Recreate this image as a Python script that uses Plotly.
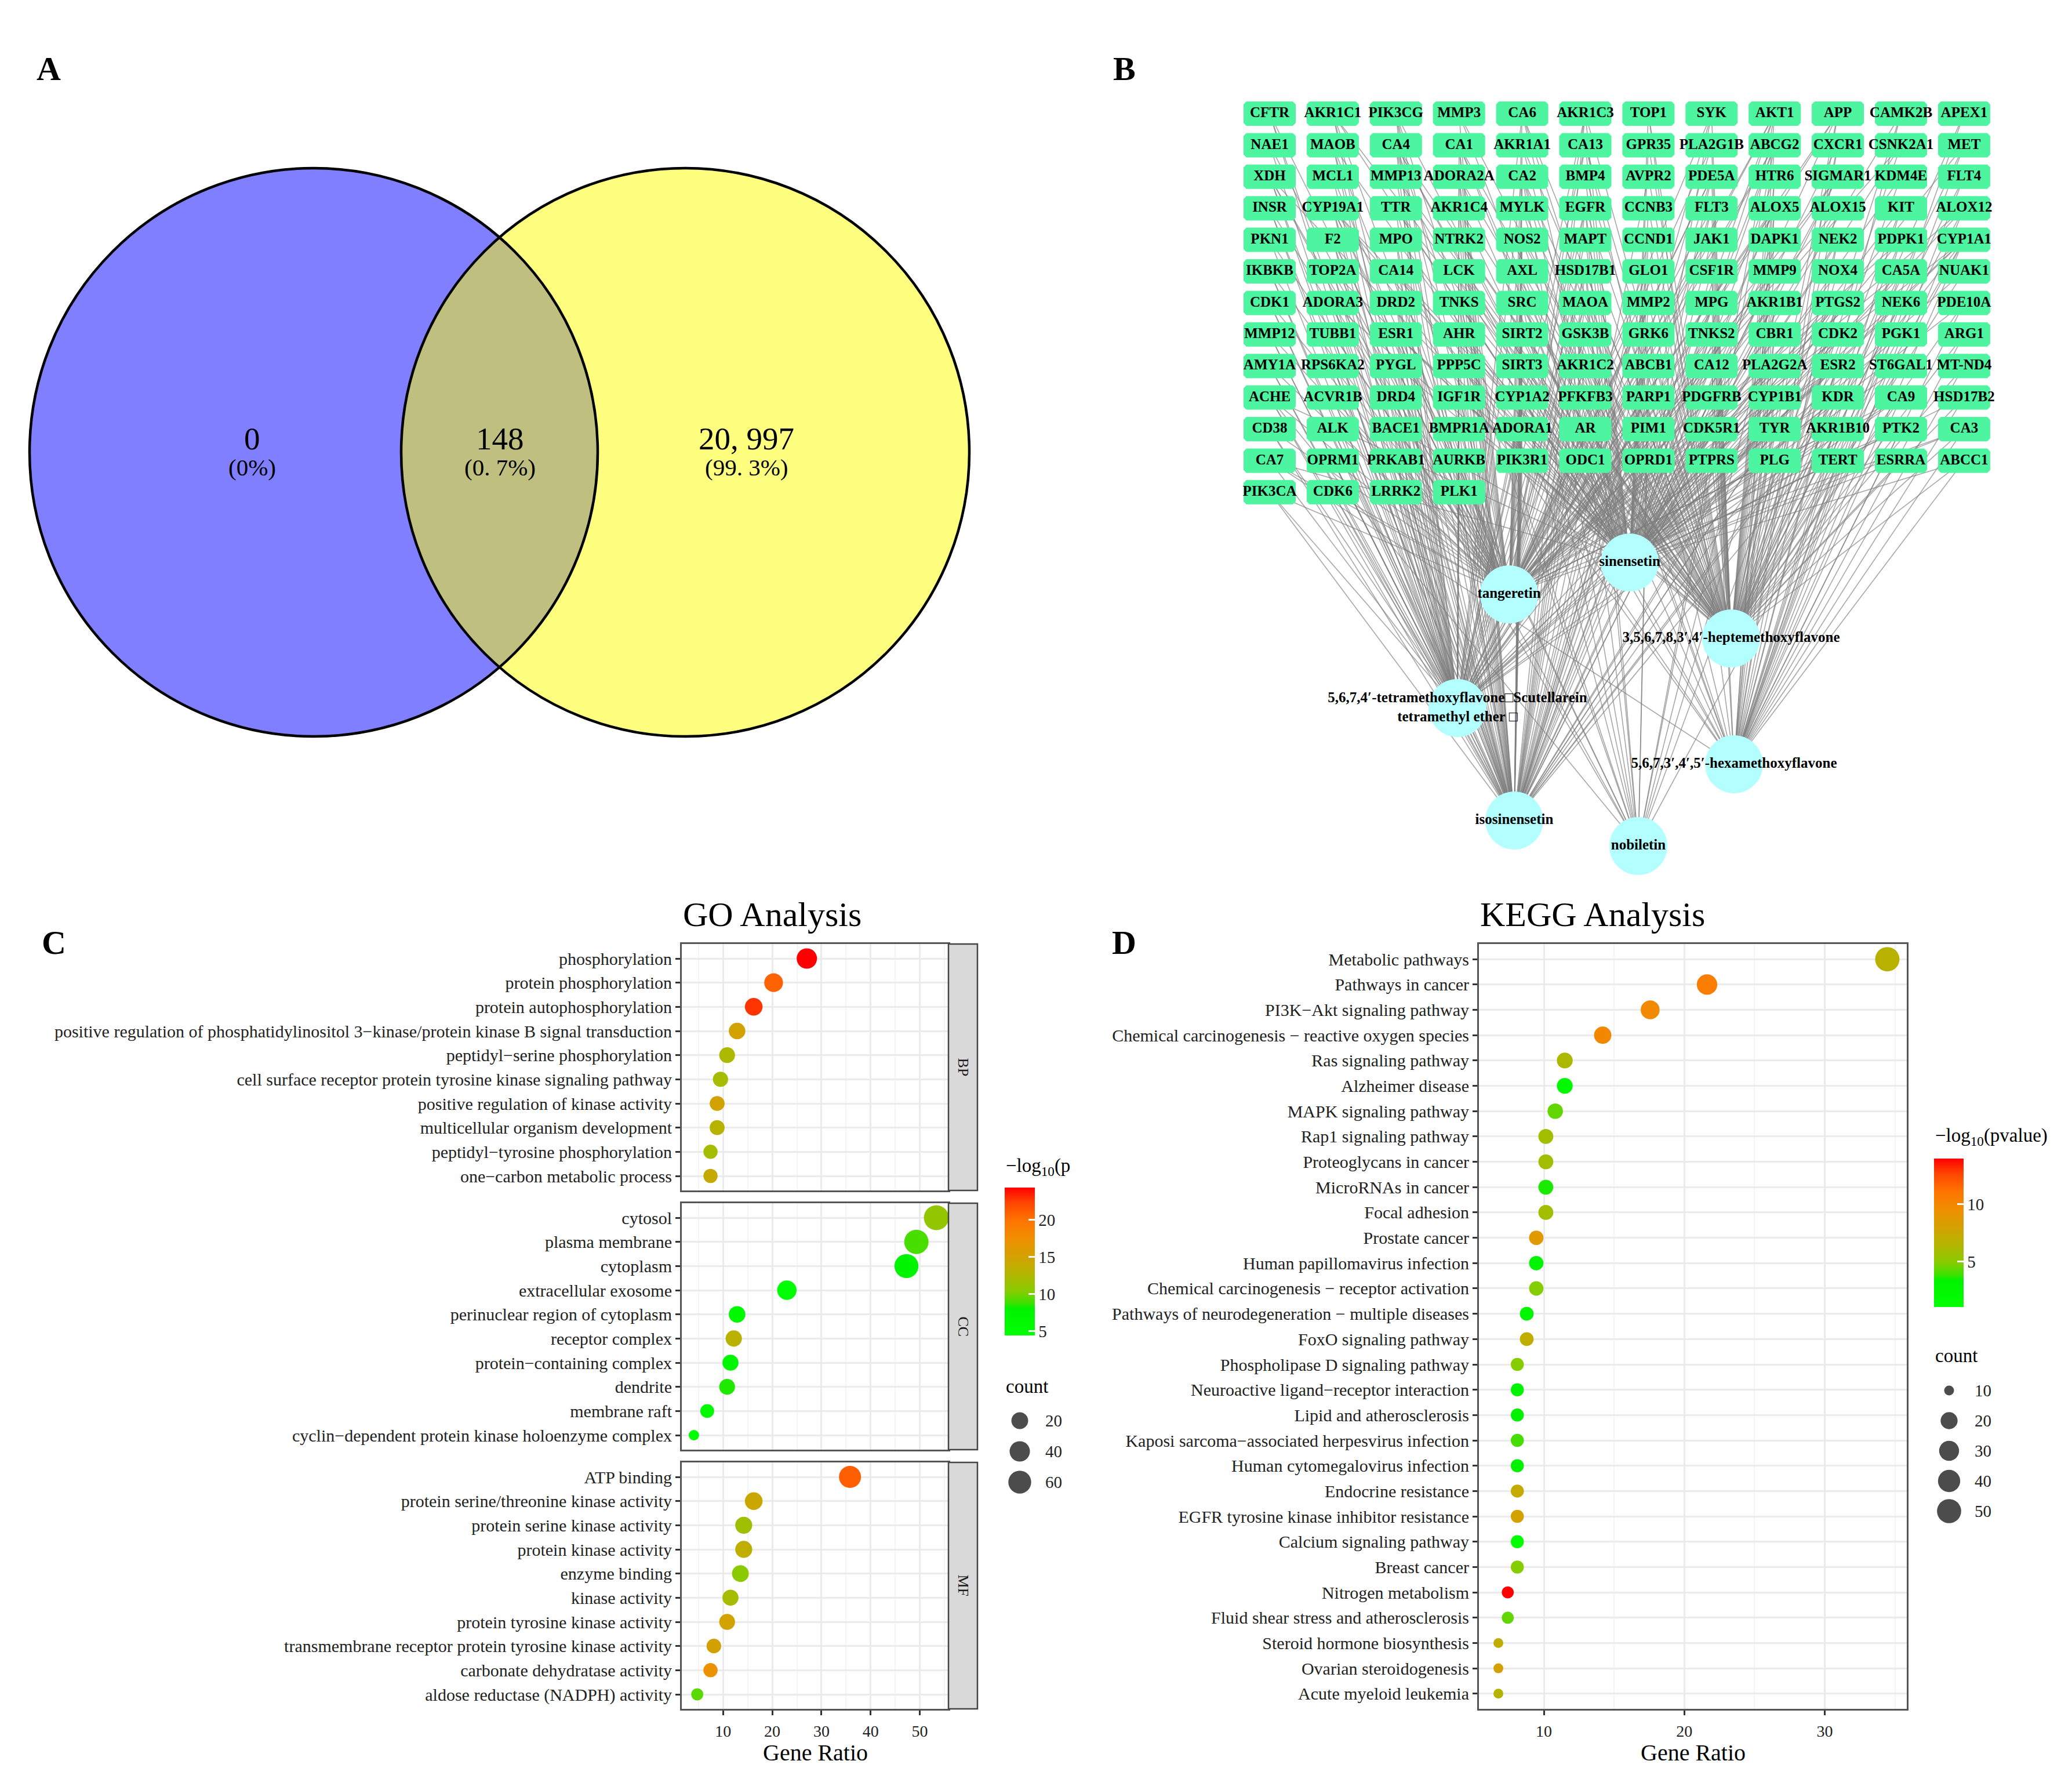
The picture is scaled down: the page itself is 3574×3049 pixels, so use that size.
import math
import plotly.graph_objects as go

W, H = 3574, 3049
FONT = "Liberation Serif"

# ------------------------------------------------------------------ data
venn_counts = ["0", "148", "20, 997"]
venn_pcts = ["(0%)", "(0. 7%)", "(99. 3%)"]

genes = [
    "CFTR", "AKR1C1", "PIK3CG", "MMP3", "CA6", "AKR1C3", "TOP1", "SYK", "AKT1", "APP", "CAMK2B", "APEX1",
    "NAE1", "MAOB", "CA4", "CA1", "AKR1A1", "CA13", "GPR35", "PLA2G1B", "ABCG2", "CXCR1", "CSNK2A1", "MET",
    "XDH", "MCL1", "MMP13", "ADORA2A", "CA2", "BMP4", "AVPR2", "PDE5A", "HTR6", "SIGMAR1", "KDM4E", "FLT4",
    "INSR", "CYP19A1", "TTR", "AKR1C4", "MYLK", "EGFR", "CCNB3", "FLT3", "ALOX5", "ALOX15", "KIT", "ALOX12",
    "PKN1", "F2", "MPO", "NTRK2", "NOS2", "MAPT", "CCND1", "JAK1", "DAPK1", "NEK2", "PDPK1", "CYP1A1",
    "IKBKB", "TOP2A", "CA14", "LCK", "AXL", "HSD17B1", "GLO1", "CSF1R", "MMP9", "NOX4", "CA5A", "NUAK1",
    "CDK1", "ADORA3", "DRD2", "TNKS", "SRC", "MAOA", "MMP2", "MPG", "AKR1B1", "PTGS2", "NEK6", "PDE10A",
    "MMP12", "TUBB1", "ESR1", "AHR", "SIRT2", "GSK3B", "GRK6", "TNKS2", "CBR1", "CDK2", "PGK1", "ARG1",
    "AMY1A", "RPS6KA2", "PYGL", "PPP5C", "SIRT3", "AKR1C2", "ABCB1", "CA12", "PLA2G2A", "ESR2", "ST6GAL1", "MT-ND4",
    "ACHE", "ACVR1B", "DRD4", "IGF1R", "CYP1A2", "PFKFB3", "PARP1", "PDGFRB", "CYP1B1", "KDR", "CA9", "HSD17B2",
    "CD38", "ALK", "BACE1", "BMPR1A", "ADORA1", "AR", "PIM1", "CDK5R1", "TYR", "AKR1B10", "PTK2", "CA3",
    "CA7", "OPRM1", "PRKAB1", "AURKB", "PIK3R1", "ODC1", "OPRD1", "PTPRS", "PLG", "TERT", "ESRRA", "ABCC1",
    "PIK3CA", "CDK6", "LRRK2", "PLK1",
]
# compounds linked to each gene (S sinensetin, T tangeretin, H heptemethoxyflavone,
# M tetramethoxyflavone, X hexamethoxyflavone, I isosinensetin, N nobiletin) - estimated
gene_targets = [
    "TMI", "STHMI", "STMIN", "SHI", "STHMX", "STHMI", "SHX", "STHI", "STHMIN", "STHMX", "SHX", "HX",
    "TM", "STMI", "STHMXIN", "STHMXI", "SHI", "STHMX", "SH", "THI", "STHMIN", "SHX", "STH", "SHX",
    "STMIN", "TM", "SHI", "STHMI", "STHMXIN", "SH", "HI", "STHMI", "SHX", "STMI", "SH", "HX",
    "TMI", "STHMXIN", "STHM", "STHI", "SH", "STHMIN", "SH", "STHI", "STHMXI", "STH", "SHX", "STHX",
    "TM", "TMI", "SMI", "STH", "STHMI", "STH", "SHI", "STH", "SH", "SHX", "STHX", "STHMXIN",
    "TMI", "STMI", "STHMX", "STHI", "SH", "STHMIN", "STHI", "SHX", "STHMI", "SH", "STHX", "SH",
    "TMI", "STMI", "TMI", "STHI", "STHMIN", "STHMI", "STHMI", "SH", "STHMXIN", "STHMXIN", "SHX", "SHX",
    "TMI", "TM", "STHMIN", "STHMI", "STHI", "STHMI", "SH", "STHI", "STHX", "STHMI", "SH", "HX",
    "TMI", "TMI", "STMI", "SHI", "STHI", "STHMXI", "STHMIN", "STHMX", "STH", "STHMXI", "SH", "HX",
    "STMIN", "TM", "TMI", "STHMI", "STHMXIN", "STHI", "STHMIN", "STHI", "STHMXIN", "STHMI", "STHMX", "SHX",
    "TMI", "TMI", "STMIN", "TMI", "STHMI", "STHMIN", "STHI", "SH", "STHMI", "STHMXI", "STHX", "STHX",
    "STMX", "TMI", "TMI", "TMI", "STHI", "STH", "SHI", "SH", "STHX", "SHX", "SH", "SHX",
    "TMI", "TMI", "TMI", "TMI",
]
compound_codes = ["S", "T", "H", "M", "X", "I", "N"]
compound_labels = [
    "sinensetin",
    "tangeretin",
    "3,5,6,7,8,3′,4′-heptemethoxyflavone",
    "5,6,7,4′-tetramethoxyflavone□Scutellarein<br>tetramethyl ether □",
    "5,6,7,3′,4′,5′-hexamethoxyflavone",
    "isosinensetin",
    "nobiletin",
]

go_bp_terms = ["phosphorylation", "protein phosphorylation", "protein autophosphorylation",
               "positive regulation of phosphatidylinositol 3−kinase/protein kinase B signal transduction",
               "peptidyl−serine phosphorylation",
               "cell surface receptor protein tyrosine kinase signaling pathway",
               "positive regulation of kinase activity", "multicellular organism development",
               "peptidyl−tyrosine phosphorylation", "one−carbon metabolic process"]
go_bp_ratio = [27.03, 20.27, 16.22, 12.84, 10.81, 9.46, 8.78, 8.78, 7.43, 7.43]
go_bp_count = [40, 30, 24, 19, 16, 14, 13, 13, 11, 11]
go_bp_logp = [24.36, 20.8, 22.8, 15.0, 12.4, 12.0, 15.0, 13.0, 12.0, 14.0]

go_cc_terms = ["cytosol", "plasma membrane", "cytoplasm", "extracellular exosome",
               "perinuclear region of cytoplasm", "receptor complex", "protein−containing complex",
               "dendrite", "membrane raft", "cyclin−dependent protein kinase holoenzyme complex"]
go_cc_ratio = [53.38, 49.32, 47.30, 22.97, 12.84, 12.16, 11.49, 10.81, 6.76, 4.05]
go_cc_count = [79, 73, 70, 34, 19, 18, 17, 16, 10, 6]
go_cc_logp = [11.0, 9.0, 7.5, 4.42, 6.0, 13.2, 7.0, 8.4, 6.0, 5.0]

go_mf_terms = ["ATP binding", "protein serine/threonine kinase activity", "protein serine kinase activity",
               "protein kinase activity", "enzyme binding", "kinase activity",
               "protein tyrosine kinase activity", "transmembrane receptor protein tyrosine kinase activity",
               "carbonate dehydratase activity", "aldose reductase (NADPH) activity"]
go_mf_ratio = [35.81, 16.22, 14.19, 14.19, 13.51, 11.49, 10.81, 8.11, 7.43, 4.73]
go_mf_count = [53, 24, 21, 21, 20, 17, 16, 12, 11, 7]
go_mf_logp = [21.0, 14.4, 11.6, 13.6, 10.6, 12.0, 15.0, 15.2, 17.2, 9.4]

go_facets = ["BP", "CC", "MF"]
go_size_breaks = [20, 40, 60]
go_cbar_ticks = [5, 10, 15, 20]
go_x_ticks = [10, 20, 30, 40, 50]
go_x_minor = [5, 15, 25, 35, 45, 55]

kegg_terms = ["Metabolic pathways", "Pathways in cancer", "PI3K−Akt signaling pathway",
              "Chemical carcinogenesis − reactive oxygen species", "Ras signaling pathway",
              "Alzheimer disease", "MAPK signaling pathway", "Rap1 signaling pathway",
              "Proteoglycans in cancer", "MicroRNAs in cancer", "Focal adhesion", "Prostate cancer",
              "Human papillomavirus infection", "Chemical carcinogenesis − receptor activation",
              "Pathways of neurodegeneration − multiple diseases", "FoxO signaling pathway",
              "Phospholipase D signaling pathway", "Neuroactive ligand−receptor interaction",
              "Lipid and atherosclerosis", "Kaposi sarcoma−associated herpesvirus infection",
              "Human cytomegalovirus infection", "Endocrine resistance",
              "EGFR tyrosine kinase inhibitor resistance", "Calcium signaling pathway", "Breast cancer",
              "Nitrogen metabolism", "Fluid shear stress and atherosclerosis",
              "Steroid hormone biosynthesis", "Ovarian steroidogenesis", "Acute myeloid leukemia"]
kegg_count = [51, 32, 26, 21, 17, 17, 16, 15, 15, 15, 15, 14, 14, 14, 13, 13,
              12, 12, 12, 12, 12, 12, 12, 12, 12, 11, 11, 10, 10, 10]
kegg_ratio = [34.46, 21.62, 17.57, 14.19, 11.49, 11.49, 10.81, 10.14, 10.14, 10.14, 10.14, 9.46, 9.46,
              9.46, 8.78, 8.78, 8.11, 8.11, 8.11, 8.11, 8.11, 8.11, 8.11, 8.11, 8.11, 7.43, 7.43,
              6.76, 6.76, 6.76]
kegg_logp = [6.7, 10.6, 9.8, 10.0, 6.2, 2.2, 4.4, 5.8, 5.8, 3.6, 5.8, 8.8, 3.0, 4.9, 2.6, 7.0,
             4.9, 3.2, 3.4, 4.0, 3.4, 7.3, 8.0, 1.06, 4.9, 13.97, 4.4, 7.1, 7.9, 6.5]
kegg_size_breaks = [10, 20, 30, 40, 50]
kegg_cbar_ticks = [5, 10]
kegg_x_ticks = [10, 20, 30]
kegg_x_minor = [15, 25, 35]

# ------------------------------------------------------------------ layout constants (pixels)
CS = [[0.0, "#00FF00"], [0.18, "#00F200"], [0.22, "#3FE000"], [0.30, "#88CC00"],
      [0.42, "#B4B400"], [0.53, "#D2A200"], [0.65, "#EE9000"], [0.78, "#FF7400"],
      [0.90, "#FF4400"], [1.0, "#FF0000"]]

GO_X = (1168, 1628)
GO_Y = [(1620, 2045), (2067, 2492), (2514, 2939)]
KEGG_X = (2543, 3281)
KEGG_Y = (1620, 2939)
STRIP_W = 50

GO_CBAR = dict(x=1725, top=2040, len=255, thick=52)
KEGG_CBAR = dict(x=3328, top=1990, len=256, thick=51)

VENN = [(533, 772, 490), (1174, 772, 490)]
VENN_TEXT_X = [427, 854, 1279]

GRID_X0, GRID_DX, GRID_Y0, GRID_DY, NCOL = 2182, 108.9, 188, 54.4, 12
BOX_HW, BOX_HH = 45, 21
NODE_XY = {"S": (2803, 962), "T": (2595, 1017), "H": (2978, 1093), "M": (2506, 1213),
           "X": (2983, 1310), "I": (2604, 1407), "N": (2818, 1451)}


def dom_x(a, b):
    return [a / W, b / W]


def dom_y(a, b):
    return [1 - b / H, 1 - a / H]


def size_scale(vals, lo, hi, dmin, dmax):
    return [dmin + (dmax - dmin) * math.sqrt(max(v - lo, 0) / (hi - lo)) for v in vals]


fig = go.Figure()
shapes = []
annotations = []


def canvas_text(x, y, text, size, xanchor="center", yanchor="middle", color="black", angle=0):
    annotations.append(dict(x=x, y=y, xref="x", yref="y", text=text, showarrow=False,
                            xanchor=xanchor, yanchor=yanchor, textangle=angle,
                            font=dict(family=FONT, size=size, color=color)))


# ------------------------------------------------------------------ panel A: Venn
venn_fill = ["rgba(0,0,255,0.5)", "rgba(255,255,0,0.5)"]
for (cx, cy, r), fc in zip(VENN, venn_fill):
    shapes.append(dict(type="circle", xref="x", yref="y", x0=cx - r, x1=cx + r, y0=cy - r, y1=cy + r,
                       fillcolor=fc, line=dict(width=0), layer="above"))
for (cx, cy, r) in VENN:
    shapes.append(dict(type="circle", xref="x", yref="y", x0=cx - r, x1=cx + r, y0=cy - r, y1=cy + r,
                       fillcolor="rgba(0,0,0,0)", line=dict(color="black", width=4.5), layer="above"))
for tx, c, p in zip(VENN_TEXT_X, venn_counts, venn_pcts):
    canvas_text(tx, 748, c, 55)
    canvas_text(tx, 798, p, 41)

# ------------------------------------------------------------------ panel B: network
gx = [GRID_X0 + GRID_DX * (i % NCOL) for i in range(len(genes))]
gy = [GRID_Y0 + GRID_DY * (i // NCOL) for i in range(len(genes))]
ex, ey = [], []
for i, codes in enumerate(gene_targets):
    for c in codes:
        nx, ny = NODE_XY[c]
        ex += [nx, gx[i], None]
        ey += [ny, gy[i], None]
fig.add_trace(go.Scatter(x=ex, y=ey, mode="lines", line=dict(color="rgba(125,125,125,0.68)", width=1.6),
                         hoverinfo="skip", showlegend=False, xaxis="x", yaxis="y"))

bx, by = [], []
ch = 5
for x, y in zip(gx, gy):
    l, r, t, b = x - BOX_HW, x + BOX_HW, y - BOX_HH, y + BOX_HH
    bx += [l + ch, r - ch, r, r, r - ch, l + ch, l, l, l + ch, None]
    by += [t, t, t + ch, b - ch, b, b, b - ch, t + ch, t, None]
fig.add_trace(go.Scatter(x=bx, y=by, mode="lines", fill="toself", fillcolor="#4DF5A0",
                         line=dict(width=0, color="#4DF5A0"), hoverinfo="skip", showlegend=False,
                         xaxis="x", yaxis="y"))
fig.add_trace(go.Scatter(x=gx, y=gy, mode="text", text=["<b>%s</b>" % g for g in genes],
                         textposition="middle center",
                         textfont=dict(family=FONT, size=25, color="black"),
                         hoverinfo="skip", showlegend=False, xaxis="x", yaxis="y"))
nxs = [NODE_XY[c][0] for c in compound_codes]
nys = [NODE_XY[c][1] for c in compound_codes]
fig.add_trace(go.Scatter(x=nxs, y=nys, mode="markers",
                         marker=dict(size=100, color="#B3FFFF", line=dict(width=0)),
                         hoverinfo="skip", showlegend=False, xaxis="x", yaxis="y"))
fig.add_trace(go.Scatter(x=nxs, y=nys, mode="text", text=["<b>%s</b>" % t for t in compound_labels],
                         textposition="middle center",
                         textfont=dict(family=FONT, size=25, color="black"),
                         hoverinfo="skip", showlegend=False, xaxis="x", yaxis="y"))

# ------------------------------------------------------------------ panel C: GO
go_all_ratio = go_bp_ratio + go_cc_ratio + go_mf_ratio
go_all_count = go_bp_count + go_cc_count + go_mf_count
go_all_logp = go_bp_logp + go_cc_logp + go_mf_logp
span = max(go_all_ratio) - min(go_all_ratio)
go_xr = [min(go_all_ratio) - 0.05 * span, max(go_all_ratio) + 0.05 * span]
go_cmin, go_cmax = min(go_all_count), max(go_all_count)
GO_DMIN, GO_DMAX = 18, 43

facet_data = [(go_bp_terms, go_bp_ratio, go_bp_count, go_bp_logp),
              (go_cc_terms, go_cc_ratio, go_cc_count, go_cc_logp),
              (go_mf_terms, go_mf_ratio, go_mf_count, go_mf_logp)]

axis_common = dict(showline=True, mirror=True, linecolor="#555555", linewidth=3, zeroline=False,
                   fixedrange=True)
TICKFONT = dict(family=FONT, size=30, color="#222222")
XTICKFONT = dict(family=FONT, size=28, color="#222222")
layout_axes = {}
for k, ((terms, ratio, count, logp), (y0, y1), lab) in enumerate(zip(facet_data, GO_Y, go_facets)):
    n = k + 2
    fig.add_trace(go.Scatter(
        x=ratio, y=terms, mode="markers",
        marker=dict(size=size_scale(count, go_cmin, go_cmax, GO_DMIN, GO_DMAX), color=logp,
                    coloraxis="coloraxis", line=dict(width=0), opacity=1),
        showlegend=False, xaxis="x%d" % n, yaxis="y%d" % n))
    last = (k == 2)
    layout_axes["xaxis%d" % n] = dict(
        domain=dom_x(*GO_X), anchor="y%d" % n, range=go_xr, tickmode="array", tickvals=go_x_ticks,
        showticklabels=last, ticks="outside" if last else "", ticklen=8, tickwidth=2.5, tickcolor="#333333",
        tickfont=XTICKFONT, ticklabelstandoff=3,
        showgrid=True, gridcolor="#EBEBEB", gridwidth=2.5,
        minor=dict(tickvals=go_x_minor, showgrid=True, gridcolor="#F4F4F4", gridwidth=1.5, ticks=""),
        **axis_common)
    layout_axes["yaxis%d" % n] = dict(
        domain=dom_y(y0, y1), anchor="x%d" % n, type="category", categoryorder="array",
        categoryarray=terms, range=[len(terms) - 0.4, -0.6], ticks="outside", ticklen=8, tickwidth=2.5,
        tickcolor="#333333", tickfont=TICKFONT,
        showgrid=True, gridcolor="#EBEBEB", gridwidth=2.5, **axis_common)
    shapes.append(dict(type="rect", xref="x", yref="y", x0=GO_X[1], x1=GO_X[1] + STRIP_W, y0=y0, y1=y1,
                       fillcolor="#D9D9D9", line=dict(color="#444444", width=2.5), layer="above"))
    canvas_text(GO_X[1] + STRIP_W / 2, (y0 + y1) / 2, lab, 26, color="#1A1A1A", angle=90)

canvas_text(GO_X[0], 1569, "GO Analysis", 60, xanchor="left")
canvas_text((GO_X[0] + GO_X[1]) / 2, 3014, "Gene Ratio", 40)

# ------------------------------------------------------------------ panel D: KEGG
span = max(kegg_ratio) - min(kegg_ratio)
kegg_xr = [min(kegg_ratio) - 0.05 * span, max(kegg_ratio) + 0.05 * span]
kg_cmin, kg_cmax = min(kegg_count), max(kegg_count)
KG_DMIN, KG_DMAX = 17, 42
fig.add_trace(go.Scatter(
    x=kegg_ratio, y=kegg_terms, mode="markers",
    marker=dict(size=size_scale(kegg_count, kg_cmin, kg_cmax, KG_DMIN, KG_DMAX), color=kegg_logp,
                coloraxis="coloraxis2", line=dict(width=0), opacity=1),
    showlegend=False, xaxis="x5", yaxis="y5"))
layout_axes["xaxis5"] = dict(
    domain=dom_x(*KEGG_X), anchor="y5", range=kegg_xr, tickmode="array", tickvals=kegg_x_ticks,
    ticks="outside", ticklen=8, tickwidth=2.5, tickcolor="#333333",
    tickfont=XTICKFONT, ticklabelstandoff=3,
    showgrid=True, gridcolor="#EBEBEB", gridwidth=2.5,
    minor=dict(tickvals=kegg_x_minor, showgrid=True, gridcolor="#F4F4F4", gridwidth=1.5, ticks=""),
    **axis_common)
layout_axes["yaxis5"] = dict(
    domain=dom_y(*KEGG_Y), anchor="x5", type="category", categoryorder="array",
    categoryarray=kegg_terms, range=[len(kegg_terms) - 0.4, -0.6], ticks="outside", ticklen=8,
    tickwidth=2.5, tickcolor="#333333", tickfont=TICKFONT,
    showgrid=True, gridcolor="#EBEBEB", gridwidth=2.5, **axis_common)
canvas_text(KEGG_X[0], 1569, "KEGG Analysis", 60, xanchor="left")
canvas_text((KEGG_X[0] + KEGG_X[1]) / 2, 3014, "Gene Ratio", 40)


# ------------------------------------------------------------------ legends
def colorbar(cb, ticks):
    return dict(x=cb["x"] / W, xanchor="left", y=1 - cb["top"] / H, yanchor="top",
                len=cb["len"], lenmode="pixels", thickness=cb["thick"], thicknessmode="pixels",
                xpad=0, ypad=0, outlinewidth=0, tickmode="array", tickvals=ticks, ticks="inside",
                ticklen=11, tickwidth=2.5, tickcolor="white",
                tickfont=dict(family=FONT, size=29, color="#222222"))


def left_ticks(cb, ticks, lo, hi):
    for v in ticks:
        yy = cb["top"] + cb["len"] - (v - lo) / (hi - lo) * cb["len"]
        shapes.append(dict(type="line", xref="x", yref="y", x0=cb["x"], x1=cb["x"] + 11, y0=yy, y1=yy,
                           line=dict(color="white", width=2.5), layer="above"))


go_lo, go_hi = min(go_all_logp), max(go_all_logp)
kg_lo, kg_hi = min(kegg_logp), max(kegg_logp)
left_ticks(GO_CBAR, go_cbar_ticks, go_lo, go_hi)
left_ticks(KEGG_CBAR, kegg_cbar_ticks, kg_lo, kg_hi)
canvas_text(GO_CBAR["x"], GO_CBAR["top"] - 36, "−log<sub>10</sub>(p", 33, xanchor="left")
canvas_text(KEGG_CBAR["x"], KEGG_CBAR["top"] - 38, "−log<sub>10</sub>(pvalue)", 33, xanchor="left")

# size legends
GO_SL = dict(x=GO_CBAR["x"], title_y=2383, y0=2442, dy=53)
KG_SL = dict(x=KEGG_CBAR["x"], title_y=2330, y0=2390, dy=52)
for sl, breaks, lo, hi, dmin, dmax in [(GO_SL, go_size_breaks, go_cmin, go_cmax, GO_DMIN, GO_DMAX),
                                       (KG_SL, kegg_size_breaks, kg_cmin, kg_cmax, KG_DMIN, KG_DMAX)]:
    ys = [sl["y0"] + sl["dy"] * i for i in range(len(breaks))]
    fig.add_trace(go.Scatter(x=[sl["x"] + 26] * len(breaks), y=ys, mode="markers",
                             marker=dict(size=size_scale(breaks, lo, hi, dmin, dmax), color="black",
                                         line=dict(width=0)),
                             hoverinfo="skip", showlegend=False, xaxis="x", yaxis="y"))
    canvas_text(sl["x"], sl["title_y"], "count", 33, xanchor="left")
    for b, yv in zip(breaks, ys):
        canvas_text(sl["x"] + 68, yv, str(b), 29, xanchor="left", color="#222222")

# panel letters
for lx, ly, t in [(76, 110, "A"), (1931, 110, "B"), (85, 1617, "C"), (1931, 1617, "D")]:
    canvas_text(lx, ly, "<b>%s</b>" % t, 58)

fig.update_layout(
    width=W, height=H, autosize=False, margin=dict(l=0, r=0, t=0, b=0),
    paper_bgcolor="white", plot_bgcolor="rgba(0,0,0,0)",
    xaxis=dict(domain=[0, 1], range=[0, W], visible=False, fixedrange=True),
    yaxis=dict(domain=[0, 1], range=[H, 0], visible=False, fixedrange=True),
    coloraxis=dict(cmin=go_lo, cmax=go_hi, colorscale=CS, colorbar=colorbar(GO_CBAR, go_cbar_ticks)),
    coloraxis2=dict(cmin=kg_lo, cmax=kg_hi, colorscale=CS, colorbar=colorbar(KEGG_CBAR, kegg_cbar_ticks)),
    shapes=shapes, annotations=annotations, showlegend=False,
    **layout_axes,
)
fig.write_html("out.html")
